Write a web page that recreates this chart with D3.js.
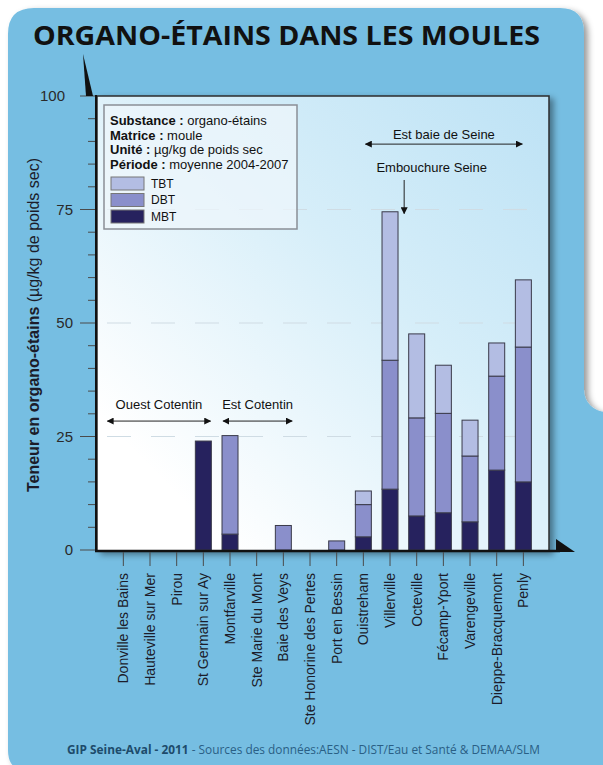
<!DOCTYPE html>
<html>
<head>
<meta charset="utf-8">
<script src="https://cdn.jsdelivr.net/npm/d3@7"></script>
<style>
  body{margin:0;background:#fff}
  svg{display:block}
</style>
</head>
<body>
<svg id="chart"></svg>
<script>
/*************** data *****************/
var sites = ["Donville les Bains","Hauteville sur Mer","Pirou","St Germain sur Ay","Montfarville",
  "Ste Marie du Mont","Baie des Veys","Ste Honorine des Pertes","Port en Bessin","Ouistreham",
  "Villerville","Octeville","Fécamp-Yport","Varengeville","Dieppe-Bracquemont","Penly"];
var mbt = [0,0,0,24,3.5,0,0,0,0,2.9,13.4,7.5,8.2,6.2,17.6,15];
var dbt = [0,0,0,0,21.7,0,5.4,0,2,7.1,28.4,21.6,21.9,14.5,20.7,29.7];
var tbt = [0,0,0,0,0,0,0,0,0,3,32.7,18.5,10.6,7.9,7.3,14.8];
var seriesNames = ["MBT","DBT","TBT"];
var legendOrder = ["TBT","DBT","MBT"];
var yTicks = [0,25,50,75,100];
var gridValues = [25,50,75];
var infoLines = [["Substance","organo-étains"],["Matrice","moule"],["Unité","µg/kg de poids sec"],["Période","moyenne 2004-2007"]];

/*************** settings *****************/
var width = 603, height = 765,
    plot = {left:97, right:549, top:96, bottom:551},
    colors = {MBT:"#26225e", DBT:"#8a8fcb", TBT:"#b3bde3"},
    cardBlue = "#76bee2",
    axisFont = "'Liberation Sans', Arial, sans-serif";

var svg = d3.select("#chart").attr("width",width).attr("height",height);
var defs = svg.append("defs");

var sh = defs.append("filter").attr("id","shadow").attr("x","-10%").attr("y","-10%").attr("width","130%").attr("height","130%");
sh.append("feDropShadow").attr("dx",4).attr("dy",3).attr("stdDeviation",3).attr("flood-color","#000").attr("flood-opacity",0.4);

var grad = defs.append("linearGradient").attr("id","panelGrad")
  .attr("x1","0").attr("y1","1").attr("x2","1").attr("y2","0");
grad.append("stop").attr("offset","0.15").attr("stop-color","#ffffff");
grad.append("stop").attr("offset","0.6").attr("stop-color","#d6eef9");
grad.append("stop").attr("offset","1").attr("stop-color","#bde2f5");

/*************** card *****************/
svg.append("path")
  .attr("d","M8,34 Q8,8 34,8 H560 Q584,8 584,33 V390 A22,22 0 0 0 606,412 V772 H30 Q8,772 8,750 Z")
  .attr("fill",cardBlue)
  .attr("filter","url(#shadow)");

svg.append("text")
  .attr("x",33).attr("y",45)
  .attr("textLength",507).attr("lengthAdjust","spacingAndGlyphs")
  .style("font-family","'Open Sans', 'Noto Sans', sans-serif")
  .style("font-weight",700).style("font-size","26px").style("fill","#111")
  .text("ORGANO-ÉTAINS DANS LES MOULES");

/*************** scales *****************/
var x = d3.scaleBand().domain(sites).range([110,536.7]).paddingInner(0.4).paddingOuter(0.2);
var y = d3.scaleLinear().domain([0,100]).range([550,96]);
function cx(i){ return x(sites[0]) + x.bandwidth()/2 + i*x.step(); }

/*************** panel *****************/
svg.append("rect")
  .attr("x",plot.left).attr("y",plot.top)
  .attr("width",plot.right-plot.left).attr("height",plot.bottom-plot.top)
  .attr("fill","url(#panelGrad)")
  .attr("stroke","#2b2b2b").attr("stroke-width",1.5)
  .attr("filter","url(#shadow)");

// dashed grid
svg.append("g").selectAll("line").data(gridValues).join("line")
  .attr("x1",plot.left+2).attr("x2",plot.right-2)
  .attr("y1",function(d){return y(d);}).attr("y2",function(d){return y(d);})
  .attr("stroke","#cfdce4").attr("stroke-width",1.2)
  .attr("stroke-dasharray","24,20").attr("stroke-dashoffset",-8);

/*************** bars *****************/
var table = sites.map(function(s,i){ return {site:s, MBT:mbt[i], DBT:dbt[i], TBT:tbt[i]}; });
var stacked = d3.stack().keys(seriesNames)(table);

svg.append("g").selectAll("g").data(stacked).join("g")
  .attr("fill",function(d){return colors[d.key];})
  .selectAll("rect").data(function(d){return d.filter(function(v){return v[1]-v[0]>0;});}).join("rect")
  .attr("x",function(d){return x(d.data.site);})
  .attr("width",x.bandwidth())
  .attr("y",function(d){return y(d[1]);})
  .attr("height",function(d){return y(d[0])-y(d[1]);})
  .attr("stroke","#3a3a4a").attr("stroke-width",1);

/*************** axes *****************/
var axisG = svg.append("g");
// y minor / major ticks
var minor = d3.range(0,101,5);
axisG.selectAll("line.tick").data(minor).join("line").attr("class","tick")
  .attr("x1",function(d){return d%25===0 ? 80 : 88;}).attr("x2",96)
  .attr("y1",function(d){return y(d);}).attr("y2",function(d){return y(d);})
  .attr("stroke","#4a4a4a").attr("stroke-width",1);
axisG.selectAll("text.ylab").data(yTicks).join("text").attr("class","ylab")
  .attr("x",function(d){return d===100 ? 65 : 73;}).attr("y",function(d){return y(d);}).attr("dy","0.36em")
  .attr("text-anchor","end")
  .style("font-family",axisFont).style("font-size","15px").style("fill","#2a2a2a")
  .text(function(d){return d;});

// y axis line + half arrow
axisG.append("line").attr("x1",96).attr("x2",96).attr("y1",551).attr("y2",95)
  .attr("stroke","#111").attr("stroke-width",2);
axisG.append("path").attr("d","M83,54 L93,96 L86,96 Z").attr("fill","#111");

// x axis line + half arrow
axisG.append("line").attr("x1",95).attr("x2",560).attr("y1",551).attr("y2",551)
  .attr("stroke","#111").attr("stroke-width",2.5);
axisG.append("path").attr("d","M556,539 L575,552 L556,552 Z").attr("fill","#111");

// x ticks + labels
axisG.selectAll("line.xt").data(sites).join("line").attr("class","xt")
  .attr("x1",function(d){return x(d)+x.bandwidth()/2;}).attr("x2",function(d){return x(d)+x.bandwidth()/2;})
  .attr("y1",552).attr("y2",566)
  .attr("stroke","#4a4a4a").attr("stroke-width",1);
axisG.selectAll("text.xl").data(sites).join("text").attr("class","xl")
  .attr("transform",function(d){return "translate(" + (x(d)+x.bandwidth()/2) + ",573) rotate(-90)";})
  .attr("dy","0.36em").attr("text-anchor","end")
  .style("font-family",axisFont).style("font-size","14px").style("fill","#1c1c2a")
  .text(function(d){return d;});

// y axis title
var yt = svg.append("text")
  .attr("transform","translate(39,325) rotate(-90)")
  .attr("text-anchor","middle")
  .attr("textLength",334).attr("lengthAdjust","spacingAndGlyphs")
  .style("font-family",axisFont).style("font-size","16px").style("fill","#1c1c2a");
yt.append("tspan").style("font-weight","bold").text("Teneur en organo-étains");
yt.append("tspan").text(" (µg/kg de poids sec)");

/*************** info legend *****************/
var lg = svg.append("g");
lg.append("rect").attr("x",104).attr("y",105).attr("width",193).attr("height",124)
  .attr("fill","#eef6fb").attr("fill-opacity",0.75)
  .attr("stroke","#8a8f96").attr("stroke-width",1.5);
infoLines.forEach(function(l,i){
  var t = lg.append("text").attr("x",110).attr("y",125+i*14.5)
    .style("font-family",axisFont).style("font-size","13px").style("fill","#111");
  t.append("tspan").style("font-weight","bold").text(l[0] + " :");
  t.append("tspan").text(" " + l[1]);
});
legendOrder.forEach(function(k,i){
  lg.append("rect").attr("x",111).attr("y",177+i*16.5).attr("width",33).attr("height",13)
    .attr("fill",colors[k]).attr("stroke","#777").attr("stroke-width",1);
  lg.append("text").attr("x",151).attr("y",183.5+i*16.5).attr("dy","0.36em")
    .style("font-family",axisFont).style("font-size","12px").style("fill","#111").text(k);
});

/*************** annotations *****************/
defs.append("marker").attr("id","ah").attr("viewBox","0 0 10 10").attr("refX",9).attr("refY",5)
  .attr("markerWidth",7).attr("markerHeight",7).attr("orient","auto-start-reverse")
  .append("path").attr("d","M0,0 L10,5 L0,10 Z").attr("fill","#111");

var zones = [
  {label:"Ouest Cotentin", from:-0.6, to:3.27, lineY:28.4, textY:31},
  {label:"Est Cotentin", from:3.74, to:6.33, lineY:28.4, textY:31},
  {label:"Est baie de Seine", from:9.08, to:14.96, lineY:89.4, textY:90.6}
];
var ann = svg.append("g").style("font-family",axisFont).style("font-size","13px").style("fill","#111");
zones.forEach(function(z){
  ann.append("line").attr("x1",cx(z.from)).attr("x2",cx(z.to))
    .attr("y1",y(z.lineY)).attr("y2",y(z.lineY))
    .attr("stroke","#222").attr("stroke-width",1)
    .attr("marker-start","url(#ah)").attr("marker-end","url(#ah)");
  ann.append("text").attr("x",(cx(z.from)+cx(z.to))/2).attr("y",y(z.textY))
    .attr("text-anchor","middle").text(z.label);
});
ann.append("text").attr("x",cx(11.6)-1).attr("y",y(83.3)).attr("text-anchor","middle").text("Embouchure Seine");
ann.append("line").attr("x1",cx(10.53)).attr("x2",cx(10.53)).attr("y1",y(81.5)).attr("y2",y(74.1))
  .attr("stroke","#222").attr("stroke-width",1).attr("marker-end","url(#ah)");

/*************** footer *****************/
var ft = svg.append("text").attr("x",67).attr("y",754)
  .attr("textLength",473).attr("lengthAdjust","spacingAndGlyphs")
  .style("font-family","'Open Sans', 'Noto Sans', sans-serif").style("font-size","12px");
ft.append("tspan").style("font-weight",700).style("fill","#1d4b6b").text("GIP Seine-Aval - 2011");
ft.append("tspan").style("fill","#2a5f85").text(" - Sources des données:AESN - DIST/Eau et Santé & DEMAA/SLM");
</script>
</body>
</html>
